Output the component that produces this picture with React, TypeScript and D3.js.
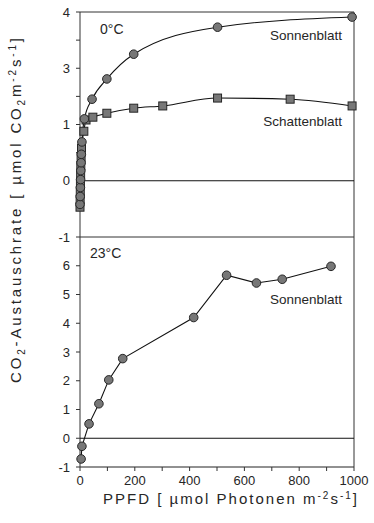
import React from "react";
import * as d3 from "d3";

// ---- data ----
const sun0PPFD = [0, 0.8, 1.5, 2.2, 3, 4, 5, 7, 16, 44, 98, 196, 502, 993];
const sun0Rate = [-0.42, -0.28, -0.12, 0.02, 0.18, 0.32, 0.47, 0.69, 1.1, 1.45, 1.81, 2.25, 2.73, 2.91];
const shade0PPFD = [0, 0.5, 1, 1.6, 2.3, 3, 4, 5.5, 14, 22, 47, 98, 196, 302, 502, 767, 993];
const shade0Rate = [-0.47, -0.33, -0.18, -0.04, 0.12, 0.27, 0.42, 0.58, 0.88, 1.08, 1.13, 1.2, 1.29, 1.33, 1.47, 1.45, 1.33];
const sun23PPFD = [4, 7, 33, 69, 105, 156, 415, 535, 644, 738, 916];
const sun23Rate = [-0.72, -0.28, 0.5, 1.2, 2.03, 2.77, 4.2, 5.67, 5.4, 5.53, 5.98];

const xTicks = [0, 100, 200, 300, 400, 500, 600, 700, 800, 900, 1000];
const xTickLabels = ["0", "200", "400", "600", "800", "1000"];
const topTicks = [-1, -0.5, 0, 0.5, 1, 1.5, 2, 2.5, 3];
const topLabelValues = [-1, 0, 1, 2, 3];
const topLabels = ["-1", "0", "1", "3", "4"];
const botTicks = [-1, 0, 1, 2, 3, 4, 5, 6];
const botLabels = ["-1", "0", "1", "2", "3", "4", "5", "6"];

const W = 374, H = 523;
const L = 80, R = 354;
const FONT = "'Liberation Sans', Arial, sans-serif";
const TXT = "#262626";

export default function App() {
  const x = d3.scaleLinear().domain([0, 1000]).range([L, R]);
  const yTop = d3.scaleLinear().domain([-1, 3]).range([237, 12]);
  const yBot = d3.scaleLinear().domain([-1, 7]).range([467, 237]);

  const smooth = (ys: d3.ScaleLinear<number, number>) =>
    d3.line<[number, number]>().x(d => x(d[0])).y(d => ys(d[1])).curve(d3.curveMonotoneX);
  const straight = (ys: d3.ScaleLinear<number, number>) =>
    d3.line<[number, number]>().x(d => x(d[0])).y(d => ys(d[1]));

  const sun0 = sun0PPFD.map((p, i) => [p, sun0Rate[i]] as [number, number]);
  const shade0 = shade0PPFD.map((p, i) => [p, shade0Rate[i]] as [number, number]);
  const sun23 = sun23PPFD.map((p, i) => [p, sun23Rate[i]] as [number, number]);

  const markFill = "#777";
  const markStroke = "#262626";

  return (
    <svg width={W} height={H} style={{ position: "absolute", left: 0, top: 0, background: "#fff" }} fontFamily={FONT}>
      {/* frames */}
      <line x1={L} x2={R} y1={yTop(3)} y2={yTop(3)} stroke="#333" strokeWidth={1} />
      <line x1={L} x2={R} y1={237} y2={237} stroke="#333" strokeWidth={1} />
      <line x1={L} x2={R} y1={yBot(-1)} y2={yBot(-1)} stroke="#222" strokeWidth={1} />
      <line x1={L} x2={L} y1={yTop(3)} y2={yBot(-1)} stroke="#333" strokeWidth={1} />
      <line x1={R} x2={R} y1={yTop(3)} y2={yBot(-1)} stroke="#333" strokeWidth={1} />
      {/* zero lines */}
      <line x1={L} x2={R} y1={yTop(0)} y2={yTop(0)} stroke="#111" strokeWidth={1} />
      <line x1={L} x2={R} y1={yBot(0)} y2={yBot(0)} stroke="#111" strokeWidth={1} />

      {/* top y ticks */}
      {topTicks.map(t => (
        <line key={"tt" + t} x1={L - 4} x2={L} y1={yTop(t)} y2={yTop(t)} stroke="#333" />
      ))}
      {topLabelValues.map((t, i) => (
        <text key={"tl" + t} x={L - 10} y={yTop(t)} dy="0.36em" textAnchor="end" fontSize={13} fill={TXT}>
          {topLabels[i]}
        </text>
      ))}
      {/* bottom y ticks */}
      {botTicks.map((t, i) => (
        <g key={"bt" + t}>
          <line x1={L - 4} x2={L} y1={yBot(t)} y2={yBot(t)} stroke="#333" />
          <text x={L - 10} y={yBot(t)} dy="0.36em" textAnchor="end" fontSize={13} fill={TXT}>
            {botLabels[i]}
          </text>
        </g>
      ))}
      {/* x ticks */}
      {xTicks.map(t => (
        <line key={"xt" + t} x1={x(t)} x2={x(t)} y1={yBot(-1)} y2={yBot(-1) + 4} stroke="#333" />
      ))}
      {xTickLabels.map(lab => (
        <text key={"xl" + lab} x={x(+lab)} y={485} textAnchor="middle" fontSize={13} fill={TXT}>
          {lab}
        </text>
      ))}

      {/* series lines */}
      <path d={smooth(yTop)(sun0) || ""} fill="none" stroke="#111" strokeWidth={1.1} />
      <path d={smooth(yTop)(shade0) || ""} fill="none" stroke="#111" strokeWidth={1.1} />
      <path d={straight(yBot)(sun23) || ""} fill="none" stroke="#111" strokeWidth={1.1} />

      {/* markers */}
      {shade0.map((d, i) => (
        <rect key={"sq" + i} x={x(d[0]) - 4} y={yTop(d[1]) - 4} width={8} height={8} fill={markFill} stroke={markStroke} strokeWidth={1} />
      ))}
      {sun0.map((d, i) => (
        <circle key={"c0" + i} cx={x(d[0])} cy={yTop(d[1])} r={4.3} fill={markFill} stroke={markStroke} strokeWidth={1} />
      ))}
      {sun23.map((d, i) => (
        <circle key={"c23" + i} cx={x(d[0])} cy={yBot(d[1])} r={4.3} fill={markFill} stroke={markStroke} strokeWidth={1} />
      ))}

      {/* panel labels */}
      <text x={100} y={34} fontSize={14} fill={TXT}>0°C</text>
      <text x={90} y={258} fontSize={14} fill={TXT}>23°C</text>
      <text x={342} y={40} textAnchor="end" fontSize={13.5} fill={TXT}>Sonnenblatt</text>
      <text x={342} y={126} textAnchor="end" fontSize={13.5} fill={TXT}>Schattenblatt</text>
      <text x={342} y={304} textAnchor="end" fontSize={13.5} fill={TXT}>Sonnenblatt</text>

      {/* axis titles */}
      <text x={103} y={504} textLength={254} lengthAdjust="spacing" fontSize={15} fill={TXT}>
        PPFD [ µmol Photonen m<tspan fontSize={10} dy={-5}>-2</tspan><tspan dy={5}>s</tspan><tspan fontSize={10} dy={-5}>-1</tspan><tspan dy={5}>]</tspan>
      </text>
      <text transform="translate(21,383) rotate(-90)" textLength={345} lengthAdjust="spacing" fontSize={15} fill={TXT}>
        CO<tspan fontSize={10} dy={4}>2</tspan><tspan dy={-4}>-Austauschrate [ µmol CO</tspan><tspan fontSize={10} dy={4}>2</tspan><tspan dy={-4}>m</tspan><tspan fontSize={10} dy={-5}>-2</tspan><tspan dy={5}>s</tspan><tspan fontSize={10} dy={-5}>-1</tspan><tspan dy={5}>]</tspan>
      </text>
    </svg>
  );
}
